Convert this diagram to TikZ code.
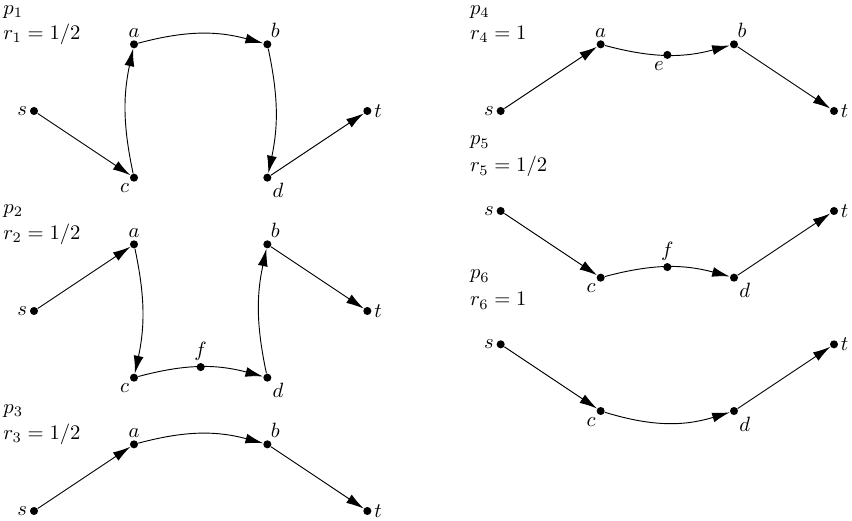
\documentclass[tikz,border=0pt]{standalone}
\usetikzlibrary{arrows.meta}
\begin{document}
\begin{tikzpicture}[x=0.567cm,y=0.567cm,
  dot/.style={circle,fill,inner sep=0pt,minimum size=3.9pt},
  arr/.style={-{Latex[length=8.5pt,width=4.8pt]}, line width=0.45pt},
  lab/.style={anchor=base west,inner sep=0pt},
  every label/.style={inner sep=1pt}]
\useasboundingbox (-1.02,3.33) rectangle (24.54,-12.3);

% ---------- p1 ----------
\node[lab] (p1) at (-0.93,2.89) {$p_1$};
\node[lab] (r1) at (-0.93,2.145) {$r_1 = 1/2$};
\node[dot,label=90:$a$] (a1) at (3,2) {};
\node[dot,label=75:$b$] (b1) at (7,2) {};
\node[dot,label=180:$s$] (s1) at (0,0) {};
\node[dot,label=235:$c$] (c1) at (3,-2) {};
\node[dot,label=310:$d$] (d1) at (7,-2) {};
\node[dot,label=0:$t$] (t1) at (10,0) {};
\draw[arr] (s1) -- (c1);
\draw[arr] (c1) to[bend left=12] (a1);
\draw[arr] (a1) to[bend left=15] (b1);
\draw[arr] (b1) to[bend left=12] (d1);
\draw[arr] (d1) -- (t1);

% ---------- p2 ----------
\node[lab] (p2) at (-0.93,-3.08) {$p_2$};
\node[lab] (r2) at (-0.93,-3.855) {$r_2 = 1/2$};
\node[dot,label=180:$s$] (s2) at (0,-6) {};
\node[dot,label=90:$a$] (a2) at (3,-4) {};
\node[dot,label=75:$b$] (b2) at (7,-4) {};
\node[dot,label=235:$c$] (c2) at (3,-8) {};
\node[dot,label=310:$d$] (d2) at (7,-8) {};
\node[dot,label=0:$t$] (t2) at (10,-6) {};
\draw[arr] (s2) -- (a2);
\draw[arr] (a2) to[bend left=12] (c2);
\draw[arr] (c2) to[bend left=15] node[dot,pos=0.5,label=90:$f$] (f2) {} (d2);
\draw[arr] (d2) to[bend left=12] (b2);
\draw[arr] (b2) -- (t2);

% ---------- p3 ----------
\node[lab] (p3) at (-0.93,-9.08) {$p_3$};
\node[lab] (r3) at (-0.93,-9.855) {$r_3 = 1/2$};
\node[dot,label=180:$s$] (s3) at (0,-12) {};
\node[dot,label=90:$a$] (a3) at (3,-10) {};
\node[dot,label=75:$b$] (b3) at (7,-10) {};
\node[dot,label=0:$t$] (t3) at (10,-12) {};
\draw[arr] (s3) -- (a3);
\draw[arr] (a3) to[bend left=15] (b3);
\draw[arr] (b3) -- (t3);

% ---------- p4 ----------
\node[lab] (p4) at (13.07,2.89) {$p_4$};
\node[lab] (r4) at (13.07,2.145) {$r_4 = 1$};
\node[dot,label=180:$s$] (s4) at (14,0) {};
\node[dot,label=90:$a$] (a4) at (17,2) {};
\node[dot,label=75:$b$] (b4) at (21,2) {};
\node[dot,label=0:$t$] (t4) at (24,0) {};
\draw[arr] (s4) -- (a4);
\draw[arr] (a4) to[bend right=15] node[dot,pos=0.5,label=255:$e$] (e4) {} (b4);
\draw[arr] (b4) -- (t4);

% ---------- p5 ----------
\node[lab] (p5) at (13.07,-1.02) {$p_5$};
\node[lab] (r5) at (13.07,-1.83) {$r_5 = 1/2$};
\node[dot,label=180:$s$] (s5) at (14,-3) {};
\node[dot,label=235:$c$] (c5) at (17,-5) {};
\node[dot,label=310:$d$] (d5) at (21,-5) {};
\node[dot,label=0:$t$] (t5) at (24,-3) {};
\draw[arr] (s5) -- (c5);
\draw[arr] (c5) to[bend left=15] node[dot,pos=0.5,label=90:$f$] (f5) {} (d5);
\draw[arr] (d5) -- (t5);

% ---------- p6 ----------
\node[lab] (p6) at (13.07,-5.04) {$p_6$};
\node[lab] (r6) at (13.07,-5.85) {$r_6 = 1$};
\node[dot,label=180:$s$] (s6) at (14,-7) {};
\node[dot,label=235:$c$] (c6) at (17,-9) {};
\node[dot,label=310:$d$] (d6) at (21,-9) {};
\node[dot,label=0:$t$] (t6) at (24,-7) {};
\draw[arr] (s6) -- (c6);
\draw[arr] (c6) to[bend right=17] (d6);
\draw[arr] (d6) -- (t6);
\end{tikzpicture}
\end{document}
